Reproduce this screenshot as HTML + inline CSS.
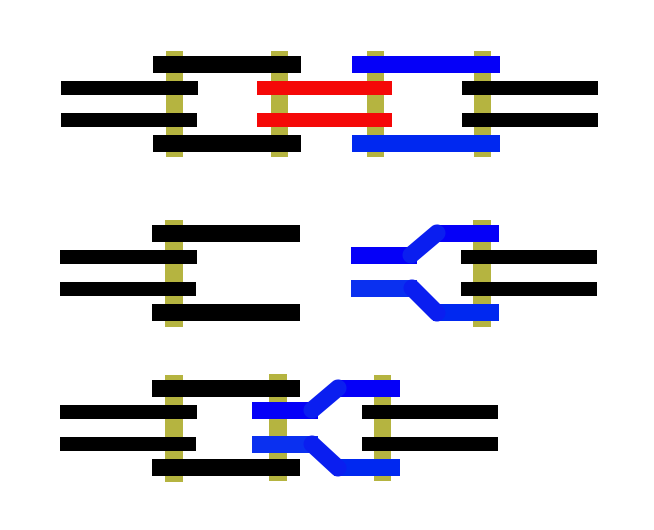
<!DOCTYPE html>
<html><head><style>html,body{margin:0;padding:0;background:#fff;}svg{display:block;}</style></head>
<body>
<svg width="654" height="530" xmlns="http://www.w3.org/2000/svg">
<rect width="654" height="530" fill="#fff"/>
<g fill="#b5b440">
<rect x="166" y="51" width="17" height="106"/>
<rect x="271" y="51" width="17" height="106"/>
<rect x="367" y="51" width="17" height="106"/>
<rect x="474" y="51" width="17" height="106"/>
<rect x="165" y="220" width="18" height="107"/>
<rect x="473" y="220" width="18" height="107"/>
<rect x="165" y="375" width="18" height="107"/>
<rect x="269" y="374" width="18" height="107"/>
<rect x="374" y="375" width="17" height="106"/>
</g>
<g fill="#000">
<rect x="153" y="56" width="148" height="17"/>
<rect x="61" y="81" width="137" height="14"/>
<rect x="61" y="113" width="136" height="14"/>
<rect x="153" y="135" width="148" height="17"/>
<rect x="462" y="81" width="136" height="14"/>
<rect x="462" y="113" width="136" height="14"/>
<rect x="152" y="225" width="148" height="17"/>
<rect x="60" y="250" width="137" height="14"/>
<rect x="60" y="282" width="136" height="14"/>
<rect x="152" y="304" width="148" height="17"/>
<rect x="461" y="250" width="136" height="14"/>
<rect x="461" y="282" width="136" height="14"/>
<rect x="152" y="380" width="148" height="17"/>
<rect x="60" y="405" width="137" height="14"/>
<rect x="60" y="437" width="136" height="14"/>
<rect x="152" y="459" width="148" height="17"/>
<rect x="362" y="405" width="136" height="14"/>
<rect x="362" y="437" width="136" height="14"/>
</g>
<g fill="#f50808">
<rect x="257" y="81" width="135" height="14"/>
<rect x="257" y="113" width="135" height="14"/>
</g>
<rect x="352" y="56" width="148" height="17" fill="#0500f8"/>
<rect x="352" y="135" width="148" height="17" fill="#0028f0"/>
<!-- middle blue -->
<rect x="351" y="247" width="66" height="17" fill="#0500f8"/>
<rect x="435" y="225" width="64" height="17" fill="#0500f8"/>
<line x1="411" y1="255" x2="437" y2="233" stroke="#0a1ef0" stroke-width="17" stroke-linecap="round"/>
<rect x="351" y="280" width="66" height="17" fill="#0a30f0"/>
<rect x="433" y="304" width="66" height="17" fill="#0028f0"/>
<line x1="412" y1="288" x2="437" y2="313" stroke="#0a1ef0" stroke-width="17" stroke-linecap="round"/>
<!-- bottom blue -->
<rect x="252" y="402" width="66" height="17" fill="#0500f8"/>
<rect x="336" y="380" width="64" height="17" fill="#0500f8"/>
<line x1="312" y1="410" x2="338" y2="388" stroke="#0a1ef0" stroke-width="17" stroke-linecap="round"/>
<rect x="252" y="436" width="66" height="17" fill="#0a30f0"/>
<rect x="334" y="459" width="66" height="17" fill="#0028f0"/>
<line x1="312" y1="444" x2="338" y2="468" stroke="#0a1ef0" stroke-width="17" stroke-linecap="round"/>
</svg>
</body></html>
